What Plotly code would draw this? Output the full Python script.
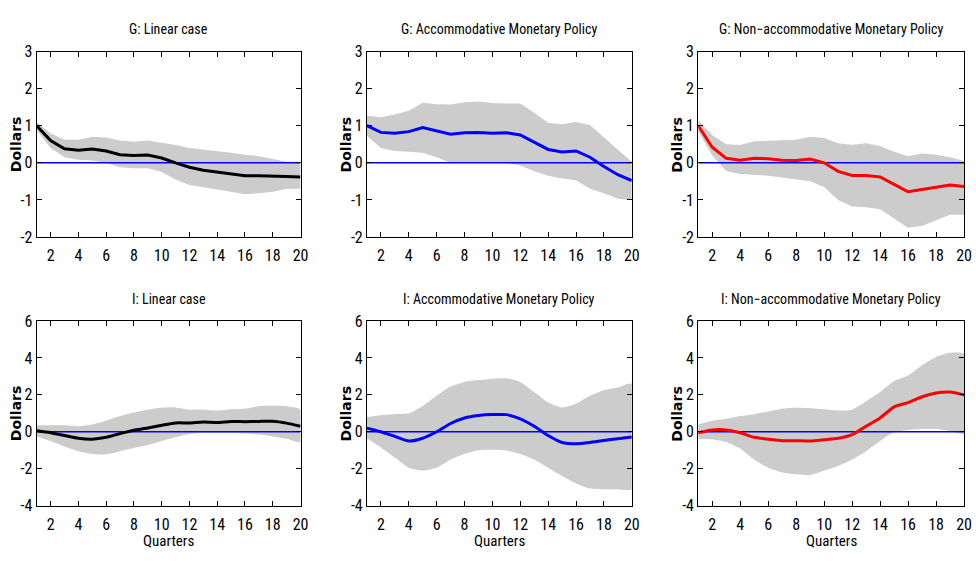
import plotly.graph_objects as go

quarters = list(range(1, 21))

# Government spending (G) responses: median and error band
g_lin_mid = [1.0, 0.6, 0.38, 0.34, 0.37, 0.32, 0.22, 0.2, 0.21, 0.13, 0.0, -0.12, -0.2, -0.25, -0.3, -0.35, -0.35, -0.37, -0.37, -0.38]
g_lin_hi = [1.1, 0.8, 0.62, 0.62, 0.7, 0.68, 0.6, 0.57, 0.6, 0.54, 0.48, 0.4, 0.36, 0.32, 0.27, 0.22, 0.18, 0.1, 0.03, 0.03]
g_lin_lo = [0.88, 0.4, 0.15, 0.08, 0.06, 0.0, -0.12, -0.15, -0.15, -0.25, -0.45, -0.6, -0.67, -0.72, -0.78, -0.85, -0.82, -0.78, -0.7, -0.7]

g_acc_mid = [1.0, 0.82, 0.8, 0.84, 0.95, 0.87, 0.77, 0.81, 0.82, 0.8, 0.81, 0.75, 0.55, 0.36, 0.29, 0.32, 0.15, -0.1, -0.32, -0.48]
g_acc_hi = [1.27, 1.23, 1.3, 1.4, 1.62, 1.58, 1.57, 1.63, 1.65, 1.61, 1.6, 1.6, 1.35, 1.08, 1.04, 1.1, 1.02, 0.68, 0.35, 0.03]
g_acc_lo = [0.72, 0.4, 0.32, 0.3, 0.27, 0.15, 0.0, 0.0, 0.0, 0.0, 0.0, -0.07, -0.23, -0.35, -0.42, -0.47, -0.7, -0.82, -0.97, -1.0]

g_non_mid = [1.0, 0.42, 0.12, 0.07, 0.12, 0.11, 0.07, 0.06, 0.1, 0.0, -0.23, -0.34, -0.34, -0.38, -0.58, -0.78, -0.72, -0.67, -0.6, -0.64]
g_non_hi = [1.15, 0.75, 0.5, 0.48, 0.58, 0.6, 0.6, 0.62, 0.7, 0.67, 0.53, 0.49, 0.53, 0.45, 0.3, 0.18, 0.25, 0.22, 0.15, 0.05]
g_non_lo = [0.85, 0.2, -0.22, -0.3, -0.32, -0.35, -0.4, -0.45, -0.5, -0.65, -1.0, -1.18, -1.2, -1.25, -1.5, -1.75, -1.7, -1.55, -1.4, -1.4]

# Investment (I) responses: median and error band
i_lin_mid = [0.05, -0.05, -0.2, -0.35, -0.4, -0.3, -0.1, 0.08, 0.2, 0.35, 0.48, 0.48, 0.53, 0.5, 0.56, 0.55, 0.56, 0.57, 0.47, 0.3]
i_lin_hi = [0.35, 0.35, 0.35, 0.3, 0.4, 0.6, 0.85, 1.05, 1.2, 1.3, 1.32, 1.2, 1.2, 1.15, 1.22, 1.25, 1.38, 1.42, 1.38, 1.2]
i_lin_lo = [-0.25, -0.5, -0.8, -1.05, -1.2, -1.22, -1.05, -0.88, -0.72, -0.5, -0.3, -0.12, -0.05, -0.05, -0.05, -0.1, -0.15, -0.25, -0.38, -0.55]

i_acc_mid = [0.2, 0.0, -0.25, -0.5, -0.35, 0.0, 0.45, 0.75, 0.88, 0.93, 0.93, 0.7, 0.3, -0.2, -0.58, -0.65, -0.58, -0.47, -0.38, -0.28]
i_acc_hi = [0.8, 0.9, 0.95, 1.0, 1.4, 1.95, 2.45, 2.7, 2.8, 2.88, 2.9, 2.7, 2.15, 1.58, 1.32, 1.52, 1.95, 2.25, 2.4, 2.6]
i_acc_lo = [-0.35, -0.85, -1.4, -1.95, -2.1, -1.95, -1.5, -1.2, -1.0, -0.98, -1.02, -1.2, -1.5, -1.95, -2.4, -2.8, -3.08, -3.12, -3.12, -3.12]

i_non_mid = [-0.05, 0.1, 0.1, -0.05, -0.3, -0.4, -0.48, -0.48, -0.5, -0.43, -0.35, -0.15, 0.3, 0.75, 1.35, 1.58, 1.9, 2.1, 2.15, 2.0]
i_non_hi = [0.4, 0.6, 0.7, 0.85, 0.95, 1.1, 1.25, 1.3, 1.28, 1.22, 1.15, 1.2, 1.65, 2.15, 2.75, 3.05, 3.6, 4.05, 4.28, 4.2]
i_non_lo = [-0.4, -0.4, -0.55, -0.9, -1.5, -1.95, -2.2, -2.3, -2.35, -2.1, -1.85, -1.5, -1.05, -0.5, 0.0, 0.1, 0.15, 0.15, 0.05, -0.1]

titles = [
    "G: Linear case", "G: Accommodative Monetary Policy", "G: Non\u2212accommodative Monetary Policy",
    "I: Linear case", "I: Accommodative Monetary Policy", "I: Non\u2212accommodative Monetary Policy",
]
x_ticks = list(range(2, 21, 2))
g_yticks = [-2, -1, 0, 1, 2, 3]
i_yticks = [-4, -2, 0, 2, 4, 6]

panels = [
    (g_lin_mid, g_lin_hi, g_lin_lo, "black"),
    (g_acc_mid, g_acc_hi, g_acc_lo, "#0000ff"),
    (g_non_mid, g_non_hi, g_non_lo, "#ff0000"),
    (i_lin_mid, i_lin_hi, i_lin_lo, "black"),
    (i_acc_mid, i_acc_hi, i_acc_lo, "#0000ff"),
    (i_non_mid, i_non_hi, i_non_lo, "#ff0000"),
]

W, H = 976, 561
col_px = [(37, 303), (370, 637), (704, 972)]
row_px = [(44, 236), (323, 514)]

FONT = "Roboto Condensed, Liberation Sans, Arial, sans-serif"
LABEL_FONT = "DejaVu Sans, Liberation Sans, Arial, sans-serif"

fig = go.Figure()
layout = dict(
    width=W, height=H, margin=dict(l=0, r=0, t=0, b=0),
    paper_bgcolor="white", plot_bgcolor="white", showlegend=False,
    font=dict(family=FONT, size=13, color="black"),
)
annotations = []

for k, (mid, hi, lo, color) in enumerate(panels):
    r, c = divmod(k, 3)
    ax = "" if k == 0 else str(k + 1)
    xref, yref = "x" + ax, "y" + ax
    x0, x1 = col_px[c]
    y0, y1 = row_px[r]
    shape = "spline" if r == 1 else "linear"

    # shaded error band
    fig.add_trace(go.Scatter(
        x=quarters + quarters[::-1], y=hi + lo[::-1], fill="toself",
        fillcolor="#cccccc", line=dict(width=0, shape=shape, smoothing=0.6), mode="lines",
        xaxis=xref, yaxis=yref, hoverinfo="skip"))
    # zero reference line
    fig.add_trace(go.Scatter(
        x=[1, 20], y=[0, 0], mode="lines", line=dict(color="#0000ff", width=1.5),
        xaxis=xref, yaxis=yref, hoverinfo="skip"))
    # median response
    fig.add_trace(go.Scatter(
        x=quarters, y=mid, mode="lines",
        line=dict(color=color, width=3, shape=shape, smoothing=0.6),
        xaxis=xref, yaxis=yref))

    yt = g_yticks if r == 0 else i_yticks
    axis_common = dict(
        showline=True, linecolor="black", linewidth=1, mirror="ticks",
        ticks="inside", ticklen=5, tickcolor="black", showgrid=False, zeroline=False,
        tickfont=dict(family=FONT, size=16, color="black"),
    )
    layout["xaxis" + ax] = dict(
        domain=[x0 / W, x1 / W], range=[1, 20], anchor=yref, ticklabelstandoff=4,
        tickvals=x_ticks, ticktext=[str(v) for v in x_ticks], **axis_common)
    layout["yaxis" + ax] = dict(
        domain=[1 - y1 / H, 1 - y0 / H], range=[yt[0], yt[-1]], anchor=xref,
        tickvals=yt, ticktext=[str(v) for v in yt], **axis_common)

    xc = (x0 + x1) / 2 / W
    annotations.append(dict(
        text=titles[k], x=xc, y=1 - (y0 - 23) / H, xref="paper", yref="paper",
        showarrow=False, font=dict(family=FONT, size=14), xanchor="center", yanchor="middle"))
    annotations.append(dict(
        text="<b>Dollars</b>", x=(x0 - 21) / W, y=1 - ((y0 + y1) / 2) / H,
        xref="paper", yref="paper", showarrow=False, textangle=-90,
        font=dict(family=LABEL_FONT, size=14),
        xanchor="center", yanchor="middle"))
    if r == 1:
        annotations.append(dict(
            text="Quarters", x=xc, y=1 - 551 / H, xref="paper", yref="paper",
            showarrow=False, font=dict(family=FONT, size=15),
            xanchor="center", yanchor="middle"))

layout["annotations"] = annotations
fig.update_layout(**layout)
fig.write_html("out.html", post_script=["document.body.style.margin='0px';"])
